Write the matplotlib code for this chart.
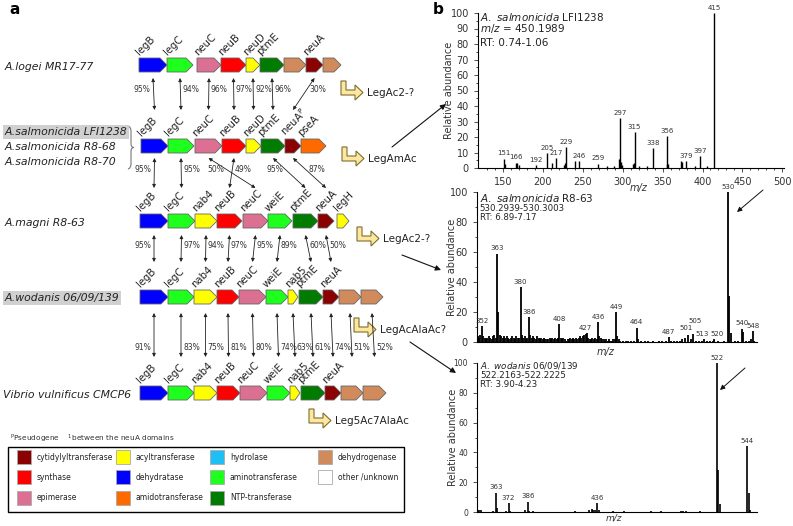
import numpy as np
import matplotlib.pyplot as plt
from matplotlib.patches import Polygon, Rectangle, PathPatch
from matplotlib.path import Path

# ---------------------------------------------------------------
# data: functional classes of the genes
# ---------------------------------------------------------------
categories = ['cytidylyltransferase', 'synthase', 'epimerase',
              'acyltransferase', 'dehydratase', 'amidotransferase',
              'hydrolase', 'aminotransferase', 'NTP-transferase',
              'dehydrogenase', 'other /unknown']
cat_colors = ['#8b0000', '#ff0000', '#db7093',
              '#ffff00', '#0000ff', '#ff6a00',
              '#1ebff5', '#1eff1e', '#007c00',
              '#d08a5c', '#ffffff']
color_of = dict(zip(categories, cat_colors))

# gene clusters (name, class, relative length, gap before gene)
logei_genes = ['legB', 'legC', 'neuC', 'neuB', 'neuD', 'ptmE', '', 'neuA', '']
logei_class = ['dehydratase', 'aminotransferase', 'epimerase', 'synthase', 'acyltransferase',
               'NTP-transferase', 'dehydrogenase', 'cytidylyltransferase', 'dehydrogenase']
logei_len = [28, 26, 24, 25, 14, 24, 22, 17, 18]
logei_gap = [0, 0, 4, 0, 0, 0, 0, 0, 0]

salm_genes = ['legB', 'legC', 'neuC', 'neuB', 'neuD', 'ptmE', 'neuA$^\\mathrm{P}$', 'pseA']
salm_class = ['dehydratase', 'aminotransferase', 'epimerase', 'synthase', 'acyltransferase',
              'NTP-transferase', 'cytidylyltransferase', 'amidotransferase']
salm_len = [27, 26, 27, 24, 15, 24, 16, 25]
salm_gap = [0, 0, 1, 0, 0, 0, 0, 0]

magni_genes = ['legB', 'legC', 'nab4', 'neuB', 'neuC', 'weiE', 'ptmE', 'neuA', 'legH']
magni_class = ['dehydratase', 'aminotransferase', 'acyltransferase', 'synthase', 'epimerase',
               'aminotransferase', 'NTP-transferase', 'cytidylyltransferase', 'acyltransferase']
magni_len = [28, 27, 22, 25, 25, 24, 25, 16, 12]
magni_gap = [0, 0, 0, 0, 1, 0, 1, 0, 3]

wod_genes = ['legB', 'legC', 'nab4', 'neuB', 'neuC', 'weiE', 'nab5', 'ptmE', 'neuA', '', '']
wod_class = ['dehydratase', 'aminotransferase', 'acyltransferase', 'synthase', 'epimerase',
             'aminotransferase', 'acyltransferase', 'NTP-transferase', 'cytidylyltransferase',
             'dehydrogenase', 'dehydrogenase']
wod_len = [28, 26, 23, 22, 27, 22, 10, 24, 16, 22, 22]
wod_gap = [0, 0, 0, 0, 0, 0, 0, 1, 0, 0, 0]

vib_genes = ['legB', 'legC', 'nab4', 'neuB', 'neuC', 'weiE', 'nab5', 'ptmE', 'neuA', '', '']
vib_class = wod_class
vib_len = [28, 26, 23, 23, 27, 23, 10, 24, 16, 22, 23]
vib_gap = [0, 0, 0, 0, 0, 0, 0, 1, 0, 0, 0]

species = ['A.logei MR17-77', 'A.magni R8-63', 'A.wodanis 06/09/139', 'Vibrio vulnificus CMCP6']
salm_strains = ['A.salmonicida LFI1238', 'A.salmonicida R8-68', 'A.salmonicida R8-70']

# identities between neighbouring clusters: (upper gene, lower gene, %, label side)
ident_1_2 = [(0, 0, 95, 'l'), (1, 1, 94, 'r'), (2, 2, 96, 'r'), (3, 3, 97, 'r'),
             (4, 4, 92, 'r'), (5, 5, 96, 'r'), (7, 6, 30, 'r')]
ident_2_3 = [(0, 0, 95, 'l'), (1, 1, 95, 'r'), (2, 4, 50, 'l'), (3, 3, 49, 'r'),
             (5, 6, 95, 'l'), (6, 7, 87, 'r')]
ident_3_4 = [(0, 0, 95, 'l'), (1, 1, 97, 'r'), (2, 2, 94, 'r'), (3, 3, 97, 'r'),
             (4, 4, 95, 'r'), (5, 5, 89, 'r'), (6, 7, 60, 'r'), (7, 8, 50, 'r')]
ident_4_5 = [(0, 0, 91, 'l'), (1, 1, 83, 'r'), (2, 2, 75, 'r'), (3, 3, 81, 'r'),
             (4, 4, 80, 'r'), (5, 5, 74, 'r'), (6, 6, 63, 'r'), (7, 7, 61, 'r'),
             (8, 8, 74, 'r'), (9, 9, 51, 'r'), (10, 10, 52, 'r')]

products = ['LegAc2-?', 'LegAmAc', 'LegAc2-?', 'LegAcAlaAc?', 'Leg5Ac7AlaAc']

# ---------------------------------------------------------------
# data: MS spectra (m/z, relative abundance)
# ---------------------------------------------------------------
sp1_mz = [151, 153, 166, 168, 170, 192, 205, 211, 217, 227, 228, 229, 241, 246, 269, 280,
          289, 296, 297, 298, 299, 313, 314, 315, 320, 330, 338, 355, 356, 357, 373, 374,
          379, 390, 397, 405, 415]
sp1_int = [6, 2.5, 3.5, 3, 2, 1.7, 9.7, 3.2, 6.5, 1.7, 3, 13.6, 4.3, 4.3, 2.8, 1,
           1, 6, 32, 4, 1.7, 2.8, 3.2, 23.3, 1, 1.2, 13, 2.8, 20.7, 2.8, 4.3, 4,
           4.3, 1.5, 7.6, 1.5, 100]
sp1_lab_mz = [151, 166, 192, 205, 217, 229, 246, 269, 297, 315, 338, 356, 379, 397, 415]
sp1_lab = ['151', '166', '192', '205', '217', '229', '246', '259', '297', '315', '338',
           '356', '379', '397', '415']

sp2_mz = [349, 350, 351, 352, 353, 354, 355, 356, 357, 358, 359, 360, 361, 362, 363, 364,
          365, 366, 367, 368, 369, 370, 371, 372, 373, 374, 375, 376, 377, 378, 379, 380,
          381, 382, 383, 384, 385, 386, 387, 388, 389, 390, 391, 392, 393, 394, 395, 396,
          397, 398, 399, 400, 401, 402, 403, 404, 405, 406, 407, 408, 409, 410, 411, 412,
          413, 414, 415, 416, 417, 418, 419, 420, 421, 422, 423, 424, 425, 426, 427, 428,
          429, 430, 431, 432, 433, 434, 435, 436, 437, 438, 439, 440, 441, 442, 443, 444,
          445, 446, 447, 448, 449, 450, 451, 452, 454, 456, 458, 460, 462, 464, 465, 467,
          470, 472, 476, 480, 482, 485, 487, 489, 491, 493, 495, 497, 499, 501, 503, 505,
          507, 509, 511, 513, 515, 517, 519, 520, 523, 527, 530, 531, 532, 535, 537, 540,
          541, 543, 545, 547, 548, 549]
sp2_int = [4, 3, 5, 10.7, 4, 3, 2, 3, 4, 3, 2, 4, 5, 3, 59, 20,
           5, 4, 3, 4, 3, 4, 3, 2, 3, 4, 3, 2, 4, 3, 3, 36.7,
           5, 3, 4, 2, 3, 16.7, 5, 3, 4, 3, 2, 4, 3, 2, 3, 2,
           3, 2, 2, 2, 3, 2, 3, 2, 3, 2, 3, 12, 3, 2, 3, 2,
           1, 2, 2, 3, 2, 3, 2, 3, 2, 3, 4, 3, 4, 5, 5.5, 6,
           3, 2, 2, 3, 2, 3, 2, 13.3, 4, 3, 2, 2, 1, 2, 1, 2,
           1, 1, 2, 2, 20, 4, 2, 1, 1, 1, 1, 1, 1, 9.5, 2, 1,
           1, 1, 1, 1, 1, 1, 3.3, 1, 1, 1, 1, 2, 3, 5, 2, 5.5,
           1, 1, 1, 2, 1, 1, 1, 2, 1, 1, 100, 31, 6, 1, 1, 9,
           7, 1, 1, 2, 7.3, 1]
sp2_lab_mz = [352, 363, 380, 386, 408, 427, 436, 449, 464, 487, 501, 505, 513, 520, 530, 540, 548]

sp3_mz = [350, 351, 352, 361, 363, 364, 370, 372, 373, 384, 386, 387, 390, 420, 430, 432,
          433, 434, 436, 437, 447, 455, 475, 482, 496, 498, 500, 510, 522, 523, 524, 544,
          545, 546]
sp3_int = [1.5, 1.5, 1.2, 0.5, 13, 2.7, 0.8, 6, 1, 1.5, 7, 1, 0.5, 0.5, 1.5, 2,
           1.5, 1.5, 6, 1.5, 0.5, 0.7, 0.5, 0.5, 0.7, 0.5, 0.5, 0.5, 100, 28, 5.3, 44,
           13, 1.5]
sp3_lab_mz = [363, 372, 386, 436, 522, 544]

# ---------------------------------------------------------------
# figure + an overlay axes in pixel units for panel a
# ---------------------------------------------------------------
fig = plt.figure(figsize=(7.93, 5.26), dpi=100)
ax0 = fig.add_axes([0, 0, 1, 1])
ax0.set_xlim(0, 793)
ax0.set_ylim(526, 0)
ax0.axis('off')

ax0.text(15, 10, 'a', fontsize=11, fontweight='bold', ha='center', va='center')
ax0.text(438, 10, 'b', fontsize=11, fontweight='bold', ha='center', va='center')


def gene_spans(start, lengths, gaps):
    x = start
    spans = []
    for L, g in zip(lengths, gaps):
        x += g
        spans.append((x, x + L))
        x += L
    return spans


def draw_cluster(spans, names, classes, yc, h=7):
    for (x0, x1), name, cl in zip(spans, names, classes):
        hl = min(7, (x1 - x0) * 0.5)
        pts = [(x0, yc - h), (x1 - hl, yc - h), (x1, yc), (x1 - hl, yc + h), (x0, yc + h)]
        ax0.add_patch(Polygon(pts, closed=True, fc=color_of[cl], ec='#666666', lw=0.6))
        if name:
            ax0.text(x0 + 1, yc - h - 2, name, rotation=45, rotation_mode='anchor',
                     ha='left', va='baseline', fontsize=7.3, color='#222222')


rows = [(logei_genes, logei_class, logei_len, logei_gap, 139, 65),
        (salm_genes, salm_class, salm_len, salm_gap, 141, 146),
        (magni_genes, magni_class, magni_len, magni_gap, 140, 221),
        (wod_genes, wod_class, wod_len, wod_gap, 140, 297),
        (vib_genes, vib_class, vib_len, vib_gap, 140, 393)]
all_spans = []
for names, classes, lens, gaps, x_start, yc in rows:
    spans = gene_spans(x_start, lens, gaps)
    all_spans.append(spans)
    draw_cluster(spans, names, classes, yc)

# species names
sp_kw = dict(fontsize=7.8, style='italic', va='center', ha='left', color='#222222')
ax0.text(5, 67, species[0], **sp_kw)
ax0.text(5, 132, salm_strains[0],
         bbox=dict(boxstyle='square,pad=0.15', fc='#d0d0d0', ec='none'), **sp_kw)
ax0.text(5, 147, salm_strains[1], **sp_kw)
ax0.text(5, 162, salm_strains[2], **sp_kw)
ax0.text(5, 223, species[1], **sp_kw)
ax0.text(5, 298, species[2],
         bbox=dict(boxstyle='square,pad=0.15', fc='#d0d0d0', ec='none'), **sp_kw)
ax0.text(3, 395, species[3], **sp_kw)

# curly brace for the three A. salmonicida strains
brace = Path([(128, 126), (131, 127), (131, 131), (131, 144), (131, 147.5), (134, 147.5),
              (131, 147.5), (131, 151), (131, 164), (131, 168), (128, 169)],
             [Path.MOVETO, Path.CURVE3, Path.CURVE3, Path.LINETO, Path.CURVE3, Path.CURVE3,
              Path.CURVE3, Path.CURVE3, Path.LINETO, Path.CURVE3, Path.CURVE3])
ax0.add_patch(PathPatch(brace, fc='none', ec='#777777', lw=0.8))

# identity arrows between the clusters
links = [(ident_1_2, 0, 1, 78, 110, 89), (ident_2_3, 1, 2, 158, 188, 170),
         (ident_3_4, 2, 3, 235, 262, 245), (ident_4_5, 3, 4, 313, 357, 348)]
for ident, ru, rl, y_top, y_bot, ly in links:
    for ia, ib, pct, side in ident:
        xa = sum(all_spans[ru][ia]) / 2
        xb = sum(all_spans[rl][ib]) / 2
        ax0.annotate('', xy=(xb, y_bot), xytext=(xa, y_top),
                     arrowprops=dict(arrowstyle='<|-|>', lw=0.6, color='#222222',
                                     mutation_scale=5, shrinkA=0, shrinkB=0))
        t = (ly - y_top) / (y_bot - y_top)
        xl = xa + t * (xb - xa)
        if side == 'r':
            ax0.text(xl + 2, ly, f'{pct}%', ha='left', va='center', fontsize=5.5, color='#333333')
        else:
            ax0.text(xl - 3, ly, f'{pct}%', ha='right', va='center', fontsize=5.5, color='#333333')


# product icons (bent arrows) with the predicted sugar names
def bent_arrow(x, y):
    pts = [(0, 0), (5, 0), (5, 9), (14, 9), (14, 4), (22, 11.5), (14, 19), (14, 14), (0, 14)]
    ax0.add_patch(Polygon([(x + a, y + b) for a, b in pts], closed=True,
                          fc='#fde7a0', ec='#7d6d2d', lw=0.8))


icon_pos = [(341, 81), (342, 147), (357, 227), (354, 318), (309, 409)]
for (ix, iy), name in zip(icon_pos, products):
    bent_arrow(ix, iy)
    ax0.text(ix + 26, iy + 12, name, fontsize=7.5, va='center', ha='left', color='#222222')

# arrows from panel a to the spectra
for (x1, y1), (x2, y2) in [((392, 147), (446, 104)), ((402, 255), (441, 270)),
                           ((410, 342), (456, 373))]:
    ax0.annotate('', xy=(x2, y2), xytext=(x1, y1),
                 arrowprops=dict(arrowstyle='-|>', lw=0.8, color='#111111',
                                 mutation_scale=8, shrinkA=0, shrinkB=0))
# arrows inside the spectra pointing at the precursor
for (x1, y1), (x2, y2) in [((763, 190), (737, 212)), ((745, 368), (720, 390))]:
    ax0.annotate('', xy=(x2, y2), xytext=(x1, y1),
                 arrowprops=dict(arrowstyle='-|>', lw=0.7, color='#111111',
                                 mutation_scale=7, shrinkA=0, shrinkB=0))

# footnote and legend
ax0.text(10, 439, '$^\\mathrm{P}$Pseudogene    $^\\mathrm{1}$between the neuA domains',
         fontsize=5.3, va='center', color='#333333')
ax0.add_patch(Rectangle((8, 447), 396, 65, fc='none', ec='black', lw=1))
col_x = [17, 116, 210, 318]
row_y = [457, 477, 498]
for i, (cat, col) in enumerate(zip(categories, cat_colors)):
    c, r = divmod(i, 3)
    sx, sy = col_x[c], row_y[r]
    ax0.add_patch(Rectangle((sx, sy - 7), 14, 14, fc=col, ec='#aaaaaa', lw=0.6))
    ax0.text(sx + 20, sy, cat, fontsize=5.5, va='center', ha='left', color='#222222')


# ---------------------------------------------------------------
# panel b: MS spectra
# ---------------------------------------------------------------
def spectrum(rect, mz, inten, lab_mz, labels, xlim, lw, tick_fs, ylabel_x, xlabel_xy,
             nudge=None, xlabel_fs=7):
    nudge = nudge or {}
    ax = fig.add_axes(rect)
    ax.set_facecolor('none')
    ax.vlines(mz, 0, inten, color='black', lw=lw)
    lookup = dict(zip(mz, inten))
    for m, lab in zip(lab_mz, labels):
        dx, dy = nudge.get(m, (0, 0))
        ax.text(m + dx, lookup[m] + 1.5 + dy, lab, ha='center', va='bottom',
                fontsize=5, color='#333333')
    ax.set_xlim(*xlim)
    ax.set_ylim(0, 100)
    ax.spines['top'].set_visible(False)
    ax.spines['right'].set_visible(False)
    ax.tick_params(labelsize=tick_fs, colors='#333333', length=3, width=0.6)
    ax.tick_params(which='minor', length=1.5, width=0.5)
    ax.set_ylabel('Relative abundance', fontsize=7, color='#333333')
    ax.yaxis.set_label_coords(ylabel_x, 0.5)
    ax.set_xlabel('m/z', fontsize=xlabel_fs, style='italic', color='#333333')
    ax.xaxis.set_label_coords(*xlabel_xy)
    return ax


ax1 = spectrum([478 / 793, 1 - 168 / 526, 306 / 793, 155 / 526], sp1_mz, sp1_int,
               sp1_lab_mz, sp1_lab, (119, 502), 1.0, 7, -0.08, (0.525, -0.095))
ax1.set_yticks(np.arange(0, 101, 10))
ax1.set_yticks(np.arange(0, 101, 5), minor=True)
ax1.set_xticks(np.arange(150, 501, 50))
ax1.set_xticks(np.arange(130, 501, 10), minor=True)
ax1.text(0.005, 0.975, '$\\it{A.\\ salmonicida}$ LFI1238', transform=ax1.transAxes,
         fontsize=7.5, va='center', color='#222222')
ax1.text(0.005, 0.897, '$\\it{m/z}$ = 450.1989', transform=ax1.transAxes,
         fontsize=7.5, va='center', color='#222222')
ax1.text(0.005, 0.807, 'RT: 0.74-1.06', transform=ax1.transAxes,
         fontsize=7.5, va='center', color='#222222')

ax2 = spectrum([477 / 793, 1 - 342 / 526, 280 / 793, 150 / 526], sp2_mz, sp2_int,
               sp2_lab_mz, [str(m) for m in sp2_lab_mz], (348.5, 551), 1.3, 7, -0.072,
               (0.46, -0.035), nudge={501: (-1, 1), 505: (1, 5), 513: (-2, 0), 520: (2, 0)})
ax2.set_yticks(np.arange(0, 101, 20))
ax2.set_yticks(np.arange(0, 101, 10), minor=True)
ax2.set_xticks([])
ax2.text(0.01, 0.96, '$\\it{A.\\ salmonicida}$ R8-63', transform=ax2.transAxes,
         fontsize=7.5, va='center', color='#222222')
ax2.text(0.01, 0.887, '530.2939-530.3003', transform=ax2.transAxes,
         fontsize=6.2, va='center', color='#222222')
ax2.text(0.01, 0.827, 'RT: 6.89-7.17', transform=ax2.transAxes,
         fontsize=6.2, va='center', color='#222222')

ax3 = spectrum([477 / 793, 1 - 512 / 526, 280 / 793, 149 / 526], sp3_mz, sp3_int,
               sp3_lab_mz, [str(m) for m in sp3_lab_mz], (349.3, 551), 1.2, 5.5, -0.068,
               (0.49, -0.012), xlabel_fs=6.5)
ax3.set_yticks(np.arange(0, 101, 20))
ax3.set_yticks(np.arange(0, 101, 10), minor=True)
ax3.set_xticks([])
ax3.text(0.01, 0.98, '$\\it{A.\\ wodanis}$ 06/09/139', transform=ax3.transAxes,
         fontsize=6.3, va='center', color='#222222')
ax3.text(0.01, 0.919, '522.2163-522.2225', transform=ax3.transAxes,
         fontsize=6.3, va='center', color='#222222')
ax3.text(0.01, 0.859, 'RT: 3.90-4.23', transform=ax3.transAxes,
         fontsize=6.3, va='center', color='#222222')

fig.savefig('out.png', dpi=100)
